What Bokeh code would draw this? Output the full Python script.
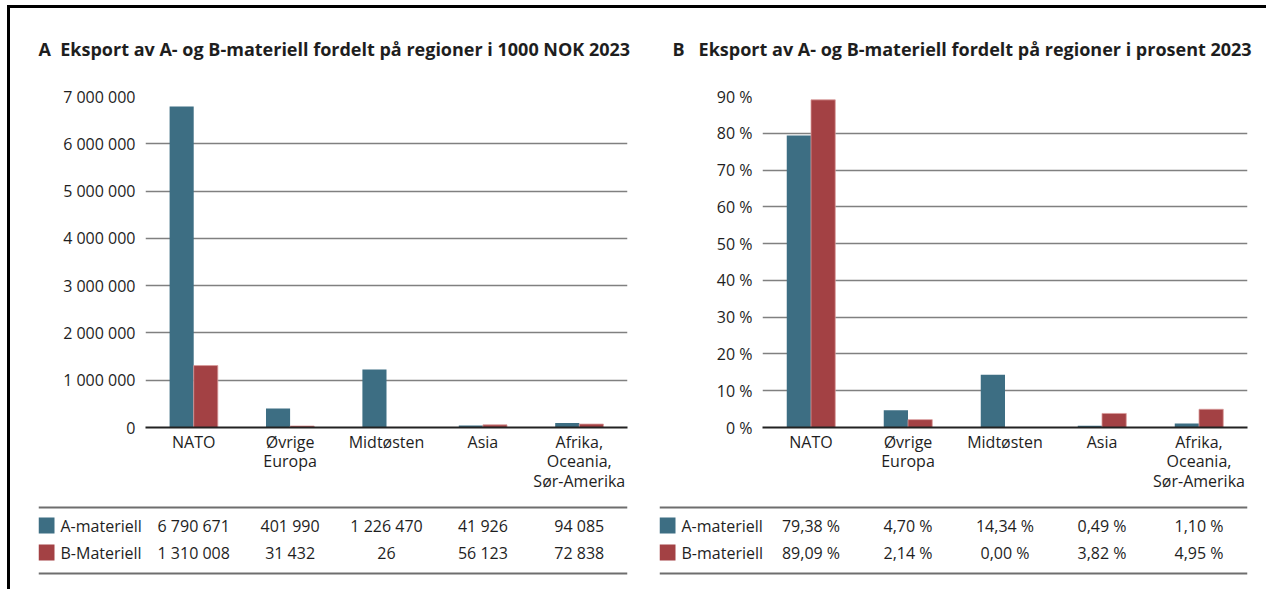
from bokeh.plotting import figure
from bokeh.models import Range1d, FixedTicker, Div, ColumnDataSource
from bokeh.layouts import row, column
from bokeh.transform import dodge
from bokeh.embed import file_html
from bokeh.resources import INLINE
from bokeh.core.properties import value

# ---------------- data ----------------
regions = ["NATO", "Øvrige\nEuropa", "Midtøsten", "Asia", "Afrika,\nOceania,\nSør-Amerika"]
a_nok = [6790671, 401990, 1226470, 41926, 94085]
b_nok = [1310008, 31432, 26, 56123, 72838]
a_pct = [79.38, 4.70, 14.34, 0.49, 1.10]
b_pct = [89.09, 2.14, 0.00, 3.82, 4.95]
nok_ticks = [0, 1000000, 2000000, 3000000, 4000000, 5000000, 6000000, 7000000]
pct_ticks = [0, 10, 20, 30, 40, 50, 60, 70, 80, 90]
labels_a = ["A-materiell", "B-Materiell"]
labels_b = ["A-materiell", "B-materiell"]
title_a = "A\u00a0\u00a0Eksport av A- og B-materiell fordelt på regioner i 1000 NOK 2023"
title_b = "B\u00a0\u00a0\u00a0Eksport av A- og B-materiell fordelt på regioner i prosent 2023"

# ---------------- style ----------------
A_COLOR = "#3d6e83"
B_COLOR = "#a34144"
TXT = "#1e1e1e"
FONT = "Open Sans"
FS = "16px"


def fmt_nok(v):
    return f"{v:,}".replace(",", " ")


def fmt_pct(v):
    return f"{v:.2f}".replace(".", ",") + " %"


def fmt_pct_tick(v):
    return f"{v} %"


def make_title(text, width, x_left):
    # a small text-only figure that carries the panel title
    p = figure(width=width, height=60, x_range=Range1d(0, width), y_range=Range1d(60, 0),
               output_backend="svg", toolbar_location=None,
               x_axis_location=None, y_axis_location=None,
               min_border_left=0, min_border_right=0, min_border_top=0, min_border_bottom=0)
    p.outline_line_color = None
    p.xgrid.visible = False
    p.ygrid.visible = False
    p.text(x=[x_left], y=[40], text=[text], text_font=value(FONT),
           text_font_size=value("18px"), text_font_style="bold", text_color=TXT,
           text_align="left", text_baseline="middle")
    return p


def make_chart(a_vals, b_vals, ticks, tick_fmt, width, left, right):
    n = len(regions)
    centers = [i + 0.5 for i in range(n)]
    p = figure(width=width, height=432, x_range=Range1d(0, n), y_range=Range1d(0, ticks[-1]),
               output_backend="svg", toolbar_location=None,
               min_border_left=left, min_border_right=right,
               min_border_top=28, min_border_bottom=73)
    p.outline_line_color = None
    p.background_fill_color = "white"
    p.border_fill_color = "white"
    src = ColumnDataSource(dict(x=centers, a=a_vals, b=b_vals))
    p.vbar(x=dodge("x", -0.125), top="a", width=0.25, source=src,
           fill_color=A_COLOR, line_color=None)
    p.vbar(x=dodge("x", 0.125), top="b", width=0.25, source=src,
           fill_color=B_COLOR, line_color="#d99a9a", line_width=0.8)

    p.xgrid.visible = False
    p.ygrid.ticker = FixedTicker(ticks=ticks)
    p.ygrid.grid_line_color = "#808080"
    p.ygrid.grid_line_width = 1.3

    p.yaxis.ticker = FixedTicker(ticks=ticks)
    p.yaxis.major_label_overrides = {t: tick_fmt(t) for t in ticks}
    p.yaxis.axis_line_color = None
    p.yaxis.major_tick_line_color = None
    p.yaxis.minor_tick_line_color = None
    p.yaxis.major_label_standoff = 4

    p.xaxis.ticker = FixedTicker(ticks=centers)
    p.xaxis.major_label_overrides = {c: r for c, r in zip(centers, regions)}
    p.xaxis.axis_line_color = "#222222"
    p.xaxis.axis_line_width = 2
    p.xaxis.major_tick_line_color = None
    p.xaxis.minor_tick_line_color = None
    p.xaxis.major_label_standoff = -3
    p.xaxis.major_label_text_line_height = 0.9

    for ax in (p.xaxis, p.yaxis):
        ax.major_label_text_font = FONT
        ax.major_label_text_font_size = FS
        ax.major_label_text_color = TXT
    return p


def make_table(a_vals, b_vals, fmt, labels, width, left, right, x0, ppu):
    n = len(regions)
    centers = [i + 0.5 for i in range(n)]
    p = figure(width=width, height=89, x_range=Range1d(x0, n), y_range=Range1d(89, 0),
               output_backend="svg", toolbar_location=None,
               x_axis_location=None, y_axis_location=None,
               min_border_left=left, min_border_right=right,
               min_border_top=0, min_border_bottom=0)
    p.outline_line_color = None
    p.xgrid.visible = False
    p.ygrid.visible = False
    rows_y = [25, 52]
    p.segment(x0=[x0, x0], y0=[7, 73], x1=[n, n], y1=[7, 73],
              line_color="#6e6e6e", line_width=2)
    p.rect(x=[x0 + 8 / ppu] * 2, y=rows_y, width=16, height=16,
           width_units="screen", height_units="screen",
           fill_color=[A_COLOR, B_COLOR], line_color=None)
    p.text(x=[x0 + 22 / ppu] * 2, y=rows_y, text=labels,
           text_font=value(FONT), text_font_size=value(FS), text_color=TXT,
           text_align="left", text_baseline="middle")
    xs = centers + centers
    ys = [rows_y[0]] * n + [rows_y[1]] * n
    txt = [fmt(v) for v in a_vals] + [fmt(v) for v in b_vals]
    p.text(x=xs, y=ys, text=txt,
           text_font=value(FONT), text_font_size=value(FS), text_color=TXT,
           text_align="center", text_baseline="middle")
    return p


# panel A: canvas x 10..645, frame 145..627
ppu_a = 482 / 5
head_a = make_title(title_a, 635, 38 - 10)
chart_a = make_chart(a_nok, b_nok, nok_ticks, fmt_nok, 635, 135, 18)
table_a = make_table(a_nok, b_nok, fmt_nok, labels_a, 635, 28, 18, -(145 - 38) / ppu_a, ppu_a)

# panel B: canvas x 645..1266, frame 762..1247
ppu_b = 485 / 5
head_b = make_title(title_b, 621, 672 - 645)
chart_b = make_chart(a_pct, b_pct, pct_ticks, fmt_pct_tick, 621, 117, 19)
table_b = make_table(a_pct, b_pct, fmt_pct, labels_b, 621, 14, 19, -(762 - 659) / ppu_b, ppu_b)


def block(w, h, color):
    return Div(text="", width=w, height=h, margin=(0, 0, 0, 0),
               styles={"background-color": color})


content = column(row(head_a, head_b), row(chart_a, chart_b), row(table_a, table_b))
framed = column(block(1259, 3, "black"), row(block(3, 581, "black"), content))
layout = row(block(7, 589, "white"), column(block(1259, 5, "white"), framed))

open("out.html", "w").write(file_html(layout, INLINE))
